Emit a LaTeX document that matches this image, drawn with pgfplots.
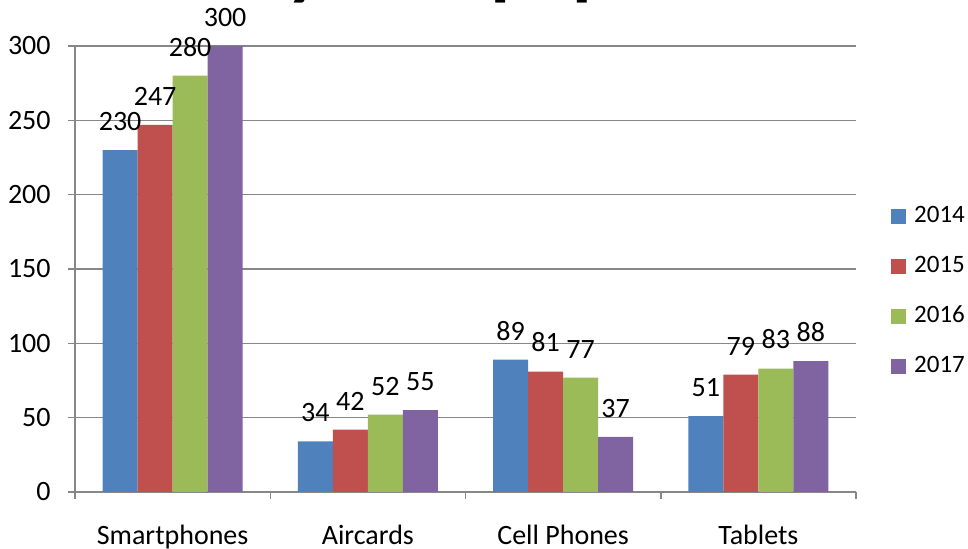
\documentclass[border=0pt]{standalone}
\usepackage{fontspec}
\setmainfont{Carlito}
\usepackage{pgfplots}
\pgfplotsset{compat=1.18}
\definecolor{c1}{HTML}{4F81BD}
\definecolor{c2}{HTML}{C0504D}
\definecolor{c3}{HTML}{9BBB59}
\definecolor{c4}{HTML}{8064A2}
\definecolor{gridc}{HTML}{878787}
\begin{document}
\fontsize{14}{16.8}\selectfont
\begin{tikzpicture}
\useasboundingbox (-37.5pt,-28.5pt) rectangle (446.5pt,246pt);
\begin{scope}
\clip (-37.5pt,-28.5pt) rectangle (446.5pt,246pt);
\node[anchor=base west, inner sep=0pt, font=\fontsize{40}{46}\selectfont\bfseries] at (-35pt,250.6pt) {Inventory of Equipment};
\end{scope}
\begin{axis}[
  scale only axis, width=390.5pt, height=223pt,
  at={(0pt,0pt)}, anchor=south west,
  xmin=-0.5, xmax=3.5, ymin=0, ymax=300,
  ybar=0pt, bar width=17.5pt,
  axis lines*=left,
  axis line style={gridc, line width=0.75pt},
  ytick={0,50,...,300},
  ymajorgrids, major grid style={gridc, line width=0.75pt},
  xtick={-0.5,0.5,1.5,2.5,3.5},
  x tick label as interval,
  xticklabels={Smartphones,Aircards,Cell Phones,Tablets},
  tick align=outside,
  major tick length=3.5pt,
  tick style={gridc, line width=0.75pt},
  /pgf/number format/assume math mode=true,
  ticklabel style={font=\fontsize{14}{16.8}\selectfont, text=black},
  yticklabel style={anchor=east, inner sep=0pt, xshift=-8.5pt},
  xticklabel style={anchor=north, inner sep=0pt, yshift=-13pt},
  legend style={draw=none, fill=none, at={(1.0445,0.45)}, anchor=west,
    inner sep=0pt, row sep=14.6pt, nodes={inner sep=0pt, font=\fontsize{12.5}{15}\selectfont}},
  every axis plot post/.append style={draw=none, legend image code/.code={\fill[##1] (0pt,-3.75pt) rectangle (7.5pt,3.75pt);}},
  nodes near coords,
  every node near coord/.append style={font=\fontsize{14}{16.8}\selectfont, text=black, anchor=south, inner sep=0pt, yshift=9.5pt},
]
\addplot[fill=c1] coordinates {(0,230) (1,34) (2,89) (3,51)};
\addplot[fill=c2] coordinates {(0,247) (1,42) (2,81) (3,79)};
\addplot[fill=c3] coordinates {(0,280) (1,52) (2,77) (3,83)};
\addplot[fill=c4] coordinates {(0,300) (1,55) (2,37) (3,88)};
\legend{\hspace*{4pt}2014,\hspace*{4pt}2015,\hspace*{4pt}2016,\hspace*{4pt}2017}
\end{axis}
\end{tikzpicture}
\end{document}
